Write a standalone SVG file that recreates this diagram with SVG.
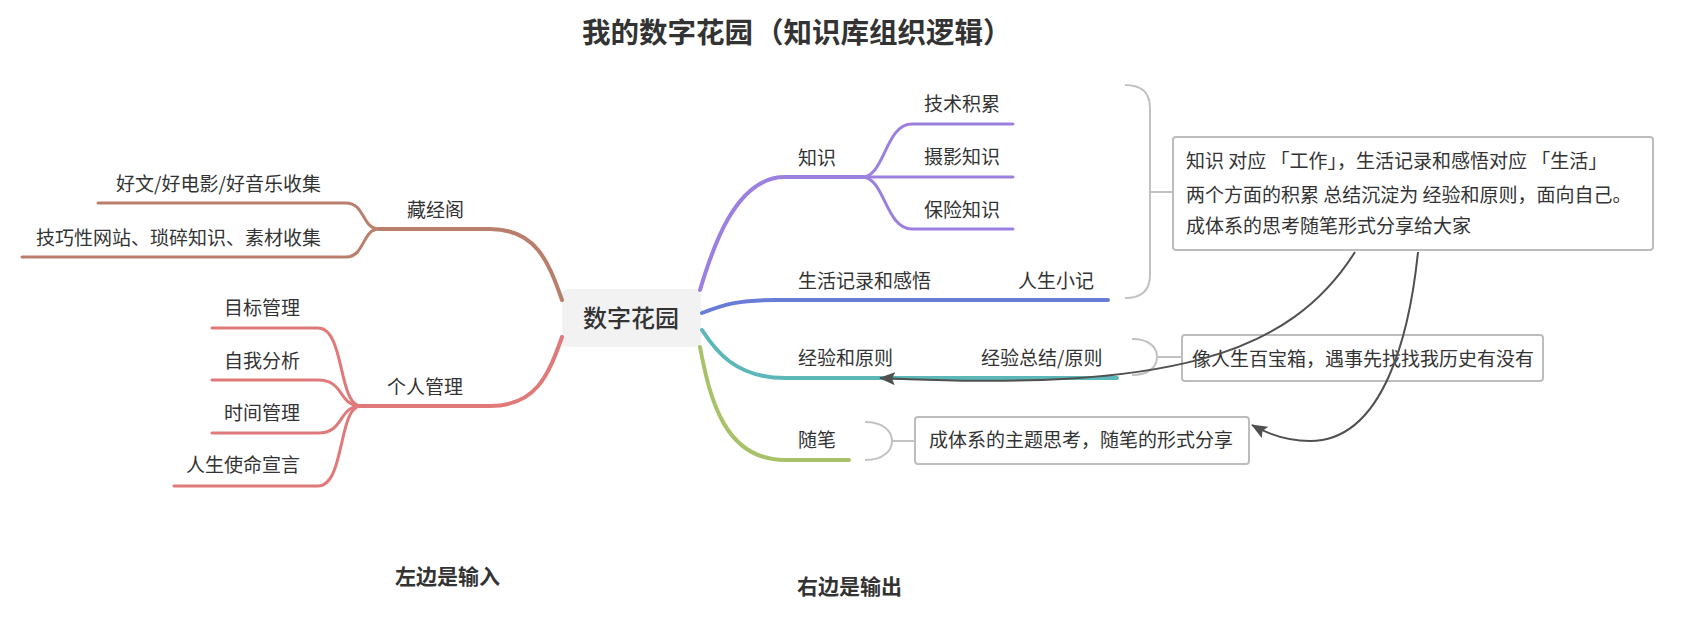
<svg xmlns="http://www.w3.org/2000/svg" width="1705" height="633" viewBox="0 0 1705 633">
<defs>
<style>
text{font-family:"Noto Sans CJK SC","Noto Sans",sans-serif;fill:#333;}
.lbl{font-size:19px;}
.lblr{font-size:19px;text-anchor:end;}
.title{font-size:28.5px;font-weight:bold;}
.note{font-size:21px;font-weight:bold;}
.center{font-size:24px;font-weight:500;text-anchor:middle;}
.br{fill:none;stroke-linecap:round;}
.m{stroke-width:4;}
.s{stroke-width:3;}
.brown{stroke:#b97f6c;}
.pink{stroke:#e07a7a;}
.purple{stroke:#9b80e0;}
.blue{stroke:#6a7dd6;}
.teal{stroke:#5cb8b8;}
.green{stroke:#a8c26a;}
.brace{fill:none;stroke:#c2c2c2;stroke-width:2;}
.box{fill:#fff;stroke:#bdbdbd;stroke-width:2;}
.rel{fill:none;stroke:#505050;stroke-width:2;}
</style>
<marker id="arr" markerUnits="userSpaceOnUse" markerWidth="18" markerHeight="14" refX="15" refY="6.5" orient="auto">
<path d="M0,0 L16,6.5 L0,13 L3,6.5 Z" fill="#505050"/>
</marker>
</defs>
<rect width="1705" height="633" fill="#fff"/>

<g id="title">
<text class="title" x="582" y="43">我的数字花园<tspan dx="2">（知识库组织逻辑）</tspan></text>
</g>

<g id="node-center">
<rect x="562" y="289" width="139" height="58" rx="6" fill="#f2f2f2"/>
<text class="center" x="631" y="327">数字花园</text>
</g>

<g id="node-cangjingge">
<text class="lbl" x="407" y="217">藏经阁</text>
</g>
<g id="node-haowen">
<text class="lblr" x="321" y="191">好文/好电影/好音乐收集</text>
</g>
<g id="node-jiqiao">
<text class="lblr" x="321" y="245">技巧性网站、琐碎知识、素材收集</text>
</g>

<g id="node-gerenguanli">
<text class="lbl" x="387" y="394">个人管理</text>
</g>
<g id="node-mubiao">
<text class="lblr" x="300" y="315">目标管理</text>
</g>
<g id="node-ziwo">
<text class="lblr" x="300" y="368">自我分析</text>
</g>
<g id="node-shijian">
<text class="lblr" x="300" y="420">时间管理</text>
</g>
<g id="node-shiming">
<text class="lblr" x="300" y="472">人生使命宣言</text>
</g>

<g id="node-zhishi">
<text class="lbl" x="798" y="165">知识</text>
</g>
<g id="node-jishu">
<text class="lbl" x="924" y="111">技术积累</text>
</g>
<g id="node-sheying">
<text class="lbl" x="924" y="164">摄影知识</text>
</g>
<g id="node-baoxian">
<text class="lbl" x="924" y="217">保险知识</text>
</g>
<g id="node-shenghuo">
<text class="lbl" x="798" y="288">生活记录和感悟</text>
</g>
<g id="node-xiaoji">
<text class="lbl" x="1018" y="288">人生小记</text>
</g>
<g id="node-jingyan">
<text class="lbl" x="798" y="365">经验和原则</text>
</g>
<g id="node-zongjie">
<text class="lbl" x="981" y="365">经验总结/原则</text>
</g>
<g id="node-suibi">
<text class="lbl" x="798" y="447">随笔</text>
</g>

<g id="summary-1">
<rect class="box" x="1173" y="137" width="480" height="113" rx="3"/>
<text class="lbl" x="1186" y="168">知识 对应 「工作」，生活记录和感悟对应 「生活」</text>
<text class="lbl" x="1186" y="202">两个方面的积累 总结沉淀为 经验和原则，面向自己。</text>
<text class="lbl" x="1186" y="233">成体系的思考随笔形式分享给大家</text>
</g>
<g id="summary-2">
<rect class="box" x="1182" y="335" width="361" height="46" rx="3"/>
<text class="lbl" x="1192" y="366">像人生百宝箱，遇事先找找我历史有没有</text>
</g>
<g id="summary-3">
<rect class="box" x="915" y="417" width="334" height="47" rx="3"/>
<text class="lbl" x="929" y="447">成体系的主题思考，随笔的形式分享</text>
</g>

<g id="note-left">
<text class="note" x="395" y="584">左边是输入</text>
</g>
<g id="note-right">
<text class="note" x="797" y="594">右边是输出</text>
</g>

<g id="connectors">
<!-- left: 藏经阁 -->
<path class="br m brown" d="M562,300 C548,260 535,229 490,229 L379,229"/>
<path class="br s brown" d="M379,229 C362,229 365,203 346,203 L98,203"/>
<path class="br s brown" d="M379,229 C362,229 365,257 346,257 L22,257"/>
<!-- left: 个人管理 -->
<path class="br m pink" d="M562,337 C548,377 535,406 490,406 L361,406"/>
<path class="br s pink" d="M361,406 C338,406 345,328 318,328 L212,328"/>
<path class="br s pink" d="M361,406 C338,406 345,380 318,380 L212,380"/>
<path class="br s pink" d="M361,406 C338,406 345,433 318,433 L212,433"/>
<path class="br s pink" d="M361,406 C338,406 345,486 318,486 L174,486"/>
<!-- right: 知识 -->
<path class="br m purple" d="M700,290 C712,250 735,177 785,177 L862,177"/>
<path class="br s purple" d="M862,177 C885,177 885,124 912,124 L1013,124"/>
<path class="br s purple" d="M862,177 L1013,177"/>
<path class="br s purple" d="M862,177 C885,177 885,229 912,229 L1013,229"/>
<!-- right: 生活记录和感悟 -->
<path class="br m blue" d="M702,313 C725,304 740,300 775,300 L1108,300"/>
<!-- right: 经验和原则 -->
<path class="br m teal" d="M702,330 C715,350 735,378 785,378 L1117,378"/>
<!-- right: 随笔 -->
<path class="br m green" d="M700,347 C710,400 725,460 785,460 L849,460"/>
<!-- summary braces -->
<path class="brace" d="M1125,85 Q1150,85 1150,108 L1150,275 Q1150,298 1125,298 M1150,192 L1173,192"/>
<path class="brace" d="M1132,339 C1150,339 1157,348 1157,357 C1157,366 1150,375 1132,375 M1157,357 L1182,357"/>
<path class="brace" d="M865,422 C883,422 892,431 892,441 C892,451 883,460 865,460 M892,441 L915,441"/>
<!-- relationship arrows -->
<path class="rel" marker-end="url(#arr)" d="M1355,252 C1290,355 1170,392 880,378"/>
<path class="rel" marker-end="url(#arr)" d="M1418,252 C1410,330 1385,441 1310,441 C1285,441 1266,433 1252,425"/>
</g>
</svg>
